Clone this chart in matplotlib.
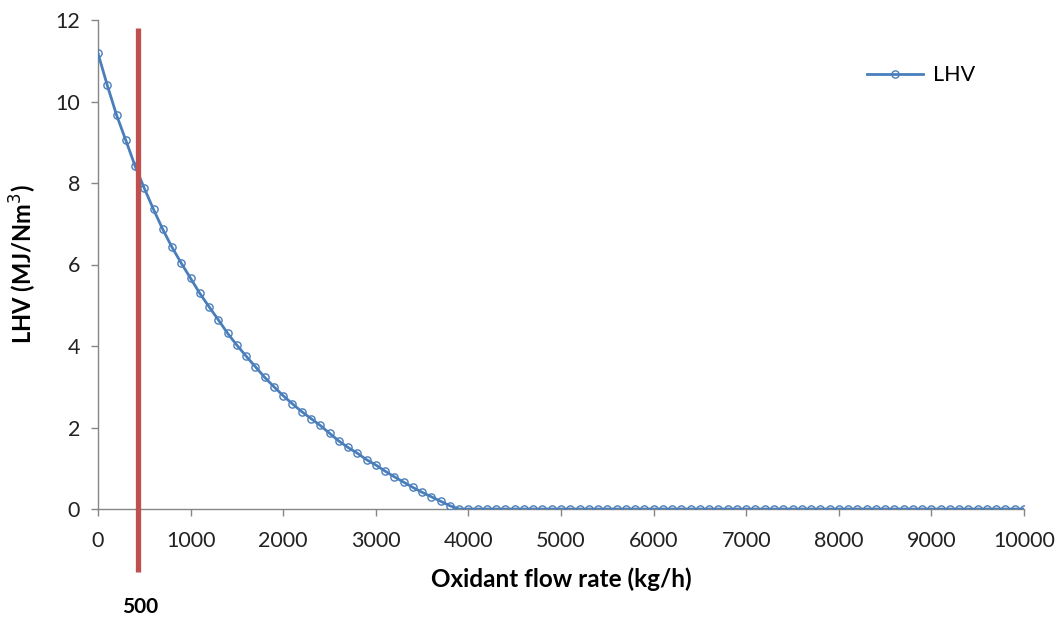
import matplotlib
matplotlib.use("Agg")
import matplotlib.pyplot as plt
import numpy as np

plt.rcParams['font.family'] = ['Lato', 'DejaVu Sans']

# Data
oxidant_flow = list(range(0, 10001, 100))
lhv_head = [11.18, 10.40, 9.67, 9.05, 8.42, 7.87, 7.35, 6.86, 6.42, 6.03,
            5.66, 5.29, 4.96, 4.64, 4.31, 4.02, 3.75, 3.49, 3.23, 3.00,
            2.78, 2.58, 2.39, 2.22, 2.05, 1.86, 1.67, 1.51, 1.37, 1.21,
            1.08, 0.93, 0.79, 0.66, 0.53, 0.41, 0.30, 0.19, 0.08]
lhv = lhv_head + [0.0] * (len(oxidant_flow) - len(lhv_head))

marker_x = 435          # where the red reference line is drawn
marker_label = "500"
x_ticks = list(range(0, 10001, 1000))
y_ticks = list(range(0, 13, 2))

fig = plt.figure(figsize=(10.64, 6.22), dpi=100)
ax = fig.add_axes([98/1064, 1 - 509/622, (1024-98)/1064, (509-20)/622])

blue = '#4A7EBB'
ax.plot(oxidant_flow, lhv, color=blue, lw=2.0, marker='o', markersize=5.2,
        markerfacecolor='none', markeredgecolor=blue, markeredgewidth=1.0,
        label='LHV', zorder=3)

ax.set_xlim(0, 10000)
ax.set_ylim(0, 12)
ax.set_xticks(x_ticks)
ax.set_yticks(y_ticks)

for s in ['top', 'right']:
    ax.spines[s].set_visible(False)
for s in ['left', 'bottom']:
    ax.spines[s].set_color('#868686')
    ax.spines[s].set_linewidth(1.0)
ax.tick_params(axis='both', direction='out', length=5, width=1.0,
               color='#868686', labelsize=15.5, labelcolor='#222222')
ax.tick_params(axis='x', pad=11)
ax.tick_params(axis='y', pad=8)

ax.set_xlabel('Oxidant flow rate (kg/h)', fontsize=17.5, fontweight='bold',
              labelpad=12)
ax.set_ylabel('LHV (MJ/Nm$^3$)', fontsize=17, fontweight='bold', labelpad=12)

# red reference line extending beyond axes
ax.plot([marker_x, marker_x], [11.80, -1.55], color='#C0504D', lw=3.8,
        clip_on=False, zorder=4, solid_capstyle='butt')
ax.annotate(marker_label, xy=(marker_x + 20, -2.4), xycoords='data',
            ha='center', va='center', fontsize=15, fontweight='bold',
            annotation_clip=False)

leg = ax.legend(loc='center left', bbox_to_anchor=(0.81, 0.887), frameon=False,
                fontsize=15.5, handlelength=2.6, handletextpad=0.45)

fig.savefig('out.png', dpi=100)
